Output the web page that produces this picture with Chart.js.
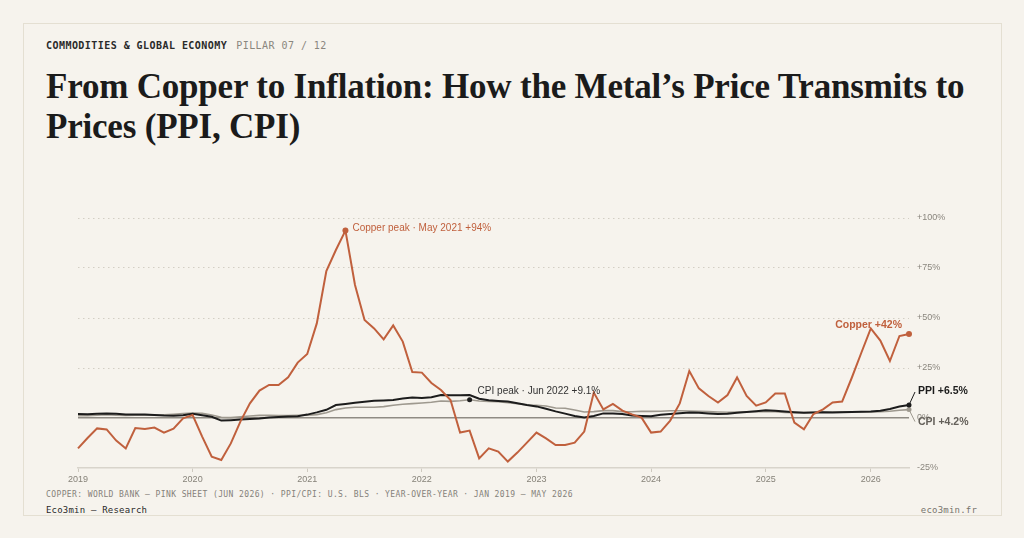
<!DOCTYPE html>
<html>
<head>
<meta charset="utf-8">
<script src="https://cdn.jsdelivr.net/npm/chart.js@4.4.1/dist/chart.umd.min.js"></script>
<style>
  html, body { margin: 0; padding: 0; background: #f6f3ed; }
  body { width: 1024px; height: 538px; position: relative; overflow: hidden; }
  .card { position: absolute; left: 23px; top: 23px; width: 977px; height: 491px; border: 1px solid #e4dfd2; }
  .kicker { position: absolute; left: 46px; top: 40px; font: bold 10px/12px "DejaVu Sans Mono", monospace; letter-spacing: 0.45px; color: #2a2a2a; white-space: nowrap; }
  .kicker span { font-weight: normal; color: #8a867e; margin-left: 9px; }
  h1 { position: absolute; left: 46px; top: 67px; margin: 0; font: bold 35px/39.5px "Liberation Serif", "Times New Roman", serif; letter-spacing: -0.2px; color: #1b1b1b; white-space: nowrap; }
  .chartbox { position: absolute; left: 46px; top: 200px; width: 934px; height: 284px; }
  .source { position: absolute; left: 46px; top: 489px; font: 8px/11px "DejaVu Sans Mono", monospace; letter-spacing: 0.4px; color: #85817a; white-space: nowrap; }
  .brand { position: absolute; left: 46px; top: 504px; font: 9px/12px "DejaVu Sans Mono", monospace; letter-spacing: 0.2px; color: #2a2a2a; }
  .site { position: absolute; right: 47px; top: 504px; font: 9px/12px "DejaVu Sans Mono", monospace; letter-spacing: 0.2px; color: #77736c; }
</style>
</head>
<body>
<div class="card"></div>
<div class="kicker">COMMODITIES &amp; GLOBAL ECONOMY<span>PILLAR 07 / 12</span></div>
<h1>From Copper to Inflation: How the Metal’s Price Transmits to<br>Prices (PPI, CPI)</h1>
<div class="chartbox"><canvas id="myChart"></canvas></div>
<div class="source">COPPER: WORLD BANK — PINK SHEET (JUN 2026) · PPI/CPI: U.S. BLS · YEAR-OVER-YEAR · JAN 2019 — MAY 2026</div>
<div class="brand">Eco3min — Research</div>
<div class="site">eco3min.fr</div>

<script>
// monthly observations, Jan 2019 -> May 2026 (one 2025 month absent from the source)
const years = ['2019', '2020', '2021', '2022', '2023', '2024', '2025', '2026'];
const monthsPerYear = [12, 12, 12, 12, 12, 12, 11, 5];
const yTicks = [-25, 0, 25, 50, 75, 100];

// copper price, % change year-over-year
const copper = [
  -15.2, -10.0, -5.2, -5.7, -11.3, -15.2, -5.0, -5.5, -4.8, -7.3, -5.3, -0.2,
  1.5, -9.3, -19.3, -21.0, -12.7, -1.8, 7.3, 13.7, 16.5, 16.5, 20.3, 27.7,
  32.0, 47.3, 73.5, 84.0, 93.7, 66.5, 49.0, 44.8, 39.3, 46.3, 38.2, 23.0,
  22.7, 17.5, 14.0, 9.0, -7.3, -6.3, -20.2, -15.2, -16.8, -21.8, -17.3, -12.3,
  -7.3, -10.2, -13.5, -13.5, -12.3, -6.8, 12.7, 4.3, 7.0, 3.7, 1.8, 0.2,
  -7.3, -6.8, -1.3, 7.3, 23.5, 14.8, 11.0, 7.7, 11.5, 20.3, 11.0, 6.2,
  7.8, 12.3, 12.3, -2.3, -5.7, 2.0, 4.3, 7.8, 8.2, 20.0, 32.5,
  44.8, 38.7, 28.5, 41.0, 42.0
];

// producer prices (final demand), % y/y
const ppi = [
  2.0, 1.9, 2.1, 2.3, 2.1, 1.7, 1.7, 1.8, 1.5, 1.2, 1.1, 1.4,
  2.1, 1.4, 0.6, -1.3, -1.1, -0.8, -0.5, -0.2, 0.3, 0.5, 0.8, 0.9,
  1.7, 2.8, 4.1, 6.5, 7.0, 7.6, 8.1, 8.6, 8.8, 9.0, 9.8, 10.2,
  10.0, 10.4, 11.5, 11.4, 11.4, 11.5, 9.6, 8.9, 8.5, 8.2, 7.4, 6.5,
  5.8, 4.6, 3.3, 2.2, 1.0, 0.3, 1.0, 2.3, 2.3, 2.0, 1.2, 1.0,
  0.9, 1.6, 2.0, 2.4, 2.7, 2.6, 2.3, 2.0, 2.1, 2.6, 3.0, 3.4,
  3.9, 3.6, 3.2, 2.9, 2.6, 2.8, 2.9, 2.8, 2.9, 3.0, 3.1,
  3.2, 3.6, 4.5, 5.7, 6.5
];

// consumer prices, % y/y
const cpi = [
  1.2, 1.1, 1.4, 1.6, 1.4, 1.3, 1.4, 1.4, 1.5, 1.6, 1.9, 2.2,
  2.5, 2.3, 1.5, 0.4, 0.2, 0.6, 1.0, 1.3, 1.4, 1.2, 1.2, 1.4,
  1.4, 1.7, 2.6, 4.2, 5.0, 5.4, 5.4, 5.4, 5.7, 6.4, 6.9, 7.2,
  7.5, 7.9, 8.5, 8.3, 8.6, 9.1, 8.5, 8.3, 8.2, 7.7, 7.1, 6.5,
  6.4, 6.0, 5.0, 4.9, 4.0, 3.0, 3.2, 3.7, 3.7, 3.2, 3.1, 3.4,
  3.3, 3.4, 3.6, 3.6, 3.5, 3.3, 3.2, 3.0, 2.9, 3.0, 3.1, 3.2,
  3.3, 3.1, 2.8, 2.7, 2.7, 2.9, 2.9, 3.0, 3.1, 3.1, 3.0,
  3.0, 3.1, 3.4, 3.9, 4.2
];

const COPPER = '#c0603d';
const PPI_C = '#1c1c1c';
const CPI_C = '#9e998f';

// category labels: year of each observation, year shown on its first month
const labels = [];
const yearStart = {};
years.forEach((y, k) => {
  yearStart[labels.length] = y;
  for (let m = 0; m < monthsPerYear[k]; m++) labels.push(y + '-' + (m + 1));
});
const last = labels.length - 1;
const copperPeak = copper.indexOf(Math.max(...copper));
const cpiPeak = cpi.indexOf(Math.max(...cpi));

const annotations = {
  id: 'annotations',
  afterDatasetsDraw(chart) {
    const ctx = chart.ctx;
    const x = chart.scales.x, y = chart.scales.y;
    ctx.save();
    ctx.textBaseline = 'middle';

    // copper peak
    ctx.font = '10px "Liberation Sans", Arial, sans-serif';
    ctx.fillStyle = COPPER;
    ctx.textAlign = 'left';
    ctx.fillText('Copper peak · May 2021 +' + Math.round(copper[copperPeak]) + '%',
      x.getPixelForValue(copperPeak) + 7, y.getPixelForValue(copper[copperPeak]) - 2);

    // cpi peak
    ctx.fillStyle = '#333';
    ctx.fillText('CPI peak · Jun 2022 +' + cpi[cpiPeak].toFixed(1) + '%',
      x.getPixelForValue(cpiPeak) + 8, y.getPixelForValue(cpi[cpiPeak]) - 9);

    // end labels
    const xe = x.getPixelForValue(last);
    ctx.font = 'bold 10.5px "Liberation Sans", Arial, sans-serif';
    ctx.fillStyle = COPPER;
    ctx.textAlign = 'right';
    ctx.fillText('Copper +' + Math.round(copper[last]) + '%', xe - 7, y.getPixelForValue(copper[last]) - 9);

    const yp = y.getPixelForValue(ppi[last]);
    const yc = y.getPixelForValue(cpi[last]);
    ctx.lineWidth = 1;
    ctx.strokeStyle = PPI_C;
    ctx.beginPath(); ctx.moveTo(xe, yp); ctx.lineTo(xe + 6, yp - 13); ctx.stroke();
    ctx.strokeStyle = CPI_C;
    ctx.beginPath(); ctx.moveTo(xe, yc); ctx.lineTo(xe + 6, yc + 12); ctx.stroke();

    ctx.textAlign = 'left';
    ctx.fillStyle = PPI_C;
    ctx.fillText('PPI +' + ppi[last].toFixed(1) + '%', xe + 9, yp - 14);
    ctx.fillStyle = '#64605a';
    ctx.fillText('CPI +' + cpi[last].toFixed(1) + '%', xe + 9, yc + 13);
    ctx.restore();
  }
};

const ctx = document.getElementById('myChart').getContext('2d');
new Chart(ctx, {
  type: 'line',
  data: {
    labels,
    datasets: [
      {
        label: 'Copper',
        data: copper,
        borderColor: COPPER,
        borderWidth: 2,
        pointRadius: c => (c.dataIndex === copperPeak || c.dataIndex === last) ? 3 : 0,
        pointBackgroundColor: COPPER,
        pointBorderWidth: 0
      },
      {
        label: 'PPI',
        data: ppi,
        borderColor: PPI_C,
        borderWidth: 2,
        pointRadius: c => c.dataIndex === last ? 2.5 : 0,
        pointBackgroundColor: PPI_C,
        pointBorderWidth: 0
      },
      {
        label: 'CPI',
        data: cpi,
        borderColor: CPI_C,
        borderWidth: 1.6,
        pointRadius: c => (c.dataIndex === last || c.dataIndex === cpiPeak) ? 2.5 : 0,
        pointBackgroundColor: c => c.dataIndex === cpiPeak ? PPI_C : CPI_C,
        pointBorderWidth: 0
      }
    ]
  },
  options: {
    responsive: true,
    maintainAspectRatio: false,
    animation: false,
    devicePixelRatio: 1,
    elements: { line: { tension: 0 } },
    layout: { padding: { left: 32, right: 0, top: 18, bottom: 0 } },
    plugins: { legend: { display: false }, tooltip: { enabled: false } },
    scales: {
      x: {
        type: 'category',
        offset: false,
        afterFit: s => { s.height = 16; },
        grid: { drawOnChartArea: false, drawTicks: true, tickLength: 4, color: '#cfcac0', lineWidth: 1 },
        border: { display: true, color: '#d8d4cb', width: 1.5 },
        ticks: {
          autoSkip: false,
          maxRotation: 0,
          padding: 2,
          color: '#868279',
          font: { family: '"Liberation Sans", Arial, sans-serif', size: 9 },
          callback: (v, i) => (yearStart[i] !== undefined ? yearStart[i] : null)
        }
      },
      y: {
        position: 'right',
        min: -25,
        max: 100,
        afterFit: s => { s.width = 71; },
        afterBuildTicks: s => { s.ticks = yTicks.map(v => ({ value: v })); },
        grid: {
          drawTicks: false,
          color: c => c.tick.value === 0 ? '#8f8b84' : (c.tick.value === -25 ? 'rgba(0,0,0,0)' : '#d3cec4'),
          lineWidth: c => c.tick.value === 0 ? 1.5 : 1
        },
        border: { display: false, dash: c => c.tick && c.tick.value === 0 ? [] : [1.5, 3.5] },
        ticks: {
          padding: 8,
          color: '#8a867e',
          font: { family: '"Liberation Sans", Arial, sans-serif', size: 9 },
          callback: v => (v > 0 ? '+' : '') + v + '%'
        }
      }
    }
  },
  plugins: [annotations]
});
</script>
</body>
</html>
